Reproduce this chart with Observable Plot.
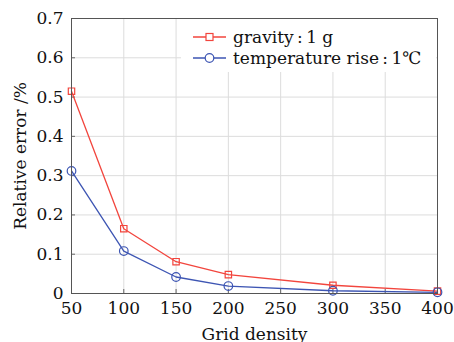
<!DOCTYPE html>
<html><head><meta charset="utf-8">
<script src="https://cdn.jsdelivr.net/npm/d3@7"></script>
<script src="https://cdn.jsdelivr.net/npm/@observablehq/plot@0.6"></script>
<style>body{margin:0;background:#fff}</style>
</head><body><div id="chart"></div>
<script>
const gridDensity = [50, 100, 150, 200, 300, 400];
const gravityErr = [0.515, 0.165, 0.081, 0.048, 0.021, 0.006];
const tempErr = [0.312, 0.108, 0.042, 0.019, 0.007, 0.003];
const seriesNames = ["gravity\u2009:\u20091 g", "temperature rise\u2009:\u20091\u2103"];
const xTicks = [50, 100, 150, 200, 250, 300, 350, 400];
const yTicks = [0, 0.1, 0.2, 0.3, 0.4, 0.5, 0.6, 0.7];
const colors = ["#f2453d", "#3d55b3"];

const data = [];
gridDensity.forEach((g, i) => {
  data.push({x: g, y: gravityErr[i], s: seriesNames[0]});
  data.push({x: g, y: tempErr[i], s: seriesNames[1]});
});
const font = "DejaVu Serif";
const yFmt = d => d === 0 ? "0" : d.toFixed(1);
const plot = Plot.plot({
  width: 454, height: 342,
  marginLeft: 71, marginRight: 17, marginTop: 18, marginBottom: 49,
  style: {fontFamily: font, fontSize: "17px", background: "#fff", color: "#111"},
  x: {domain: [50, 400]},
  y: {domain: [0, 0.7]},
  color: {domain: seriesNames, range: colors},
  marks: [
    Plot.gridX(xTicks, {stroke: "#dcdcdc", strokeOpacity: 1}),
    Plot.gridY(yTicks, {stroke: "#dcdcdc", strokeOpacity: 1}),
    Plot.axisX({ticks: xTicks, tickSize: -4, tickPadding: 12, fontSize: 17, stroke: "#666",
      label: "Grid density", labelAnchor: "center", labelArrow: "none", labelOffset: 46}),
    Plot.axisY({ticks: yTicks, tickSize: -4, tickPadding: 12, fontSize: 17, stroke: "#666", tickFormat: yFmt,
      label: "Relative error /%", labelAnchor: "center", labelArrow: "none", labelOffset: 58}),
    Plot.line(data, {x: "x", y: "y", stroke: "s", strokeWidth: 1.3}),
    Plot.dot(data.filter(d => d.s === seriesNames[0]), {x: "x", y: "y", stroke: "s", symbol: "square", r: 3.6, strokeWidth: 1.2, fill: "none"}),
    Plot.dot(data.filter(d => d.s === seriesNames[1]), {x: "x", y: "y", stroke: "s", symbol: "circle", r: 4.3, strokeWidth: 1.2, fill: "none"}),
    Plot.frame({stroke: "#555", strokeWidth: 1})
  ]
});
document.getElementById("chart").appendChild(plot);

// legend inside plot (upper right)
const svg = d3.select(plot);
const lg = svg.append("g").attr("text-anchor", "start");
lg.append("rect").attr("x", 181).attr("y", 19).attr("width", 255).attr("height", 53).attr("fill", "#fff");
seriesNames.forEach((name, i) => {
  const y = 37 + i * 21;
  lg.append("line").attr("x1", 193).attr("x2", 226).attr("y1", y).attr("y2", y).attr("stroke", colors[i]).attr("stroke-width", 1.3);
  if (i === 0) lg.append("rect").attr("x", 206).attr("y", y - 3.5).attr("width", 7).attr("height", 7).attr("fill", "#fff").attr("stroke", colors[i]).attr("stroke-width", 1.2);
  else lg.append("circle").attr("cx", 209.5).attr("cy", y).attr("r", 4.3).attr("fill", "#fff").attr("stroke", colors[i]).attr("stroke-width", 1.2);
  lg.append("text").attr("x", 233).attr("y", y).attr("dy", "0.35em").attr("text-anchor", "start").attr("font-family", font).attr("font-size", 17).attr("fill", "#111").text(name);
});
svg.select("[aria-label=frame]").raise();
</script>
</body></html>
